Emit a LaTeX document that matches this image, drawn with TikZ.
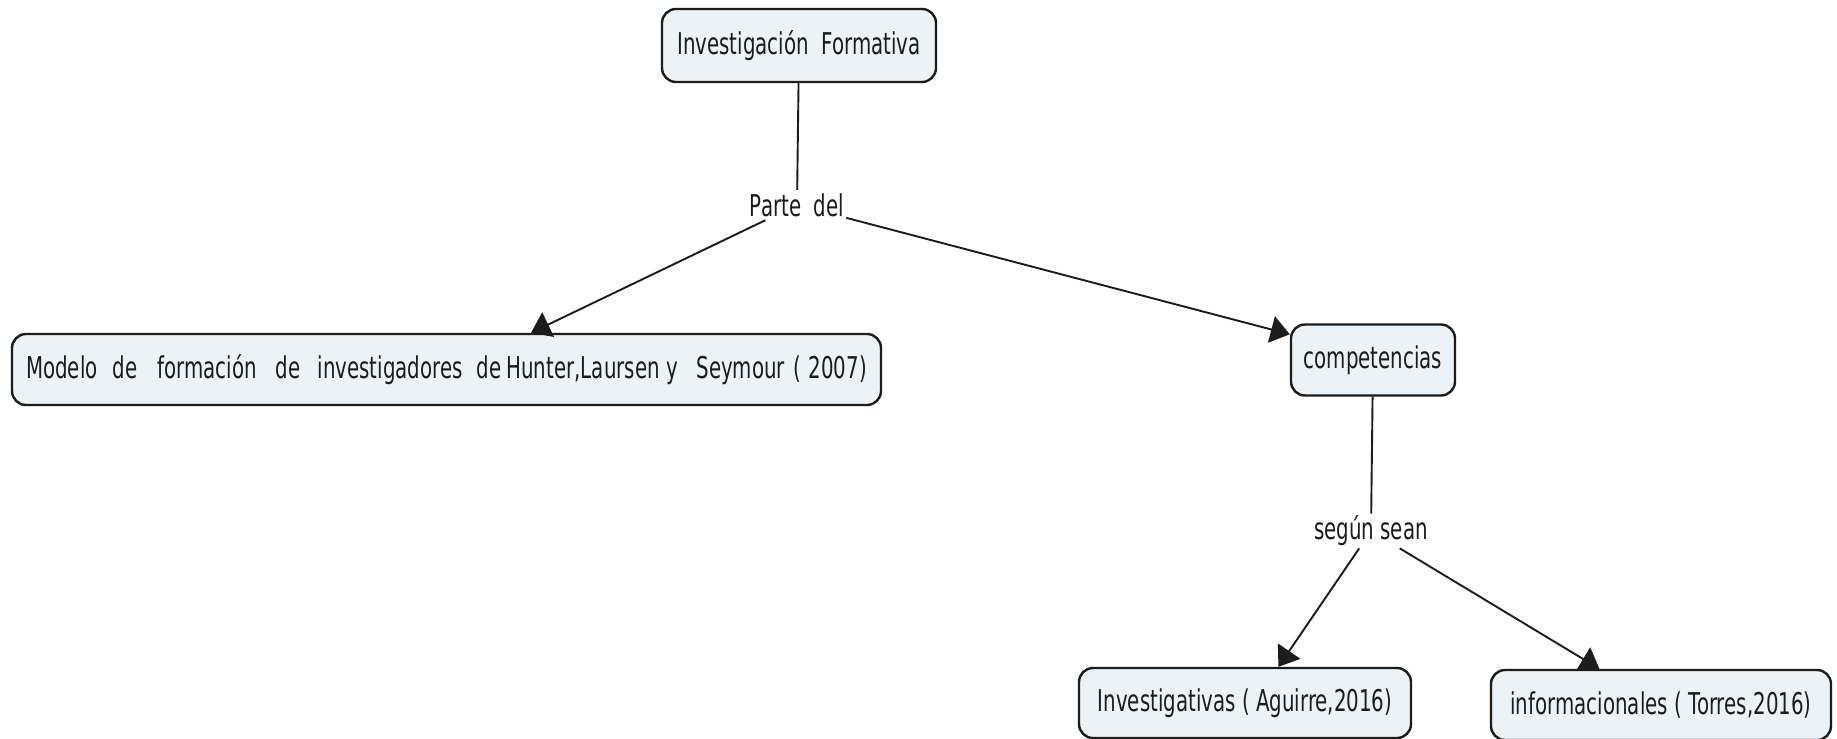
\documentclass[tikz,border=0pt]{standalone}
\usepackage{fontspec}
\setmainfont[FakeStretch=0.66]{DejaVu Sans}
\usetikzlibrary{arrows.meta,calc}
\definecolor{boxfill}{RGB}{236,242,246}
\definecolor{ink}{RGB}{28,28,28}
\begin{document}
\begin{tikzpicture}[x=1pt,y=-1pt,
  concept/.style={draw=ink, line width=2.4pt, fill=boxfill, rounded corners=14pt,
    inner sep=0pt, font=\fontsize{30}{36}\selectfont, text=ink},
  linkword/.style={inner sep=2pt, font=\fontsize{30}{36}\selectfont, text=ink,
    minimum height=30pt},
  conn/.style={draw=ink, line width=1.9pt},
  arr/.style={conn, -{Triangle[length=19pt,width=27pt]}}]
\fill[white] (0,0) rectangle (1837,739);
\useasboundingbox (0,0) rectangle (1837,739);
\node[concept, minimum width=274pt, minimum height=73pt] (top) at (799,45.5) {Investigación\ \ Formativa};
\node[linkword] (parte) at (797,205) {Parte\ \ del};
\node[concept, minimum width=869pt, minimum height=71pt] (model) at (446.5,369.5)
  {Modelo\hspace{15pt}de\hspace{20pt}formación\hspace{19pt}de\hspace{17pt}investigadores\hspace{14pt}de\hspace{5pt}Hunter,Laursen\hspace{7pt}y\hspace{18pt}Seymour\hspace{8pt}(\hspace{8pt}2007)};
\node[concept, minimum width=164pt, minimum height=71pt] (comp) at (1373,360) {competencias};
\node[linkword] (segun) at (1371,531) {según sean};
\node[concept, minimum width=332pt, minimum height=70pt] (inv) at (1245,703) {Investigativas ( Aguirre,2016)};
\node[concept, minimum width=340pt, minimum height=70pt] (info) at (1661,705) {informacionales ( Torres,2016)};
\draw[conn] (top) -- (parte);
\draw[arr] (parte) -- ($(model.north west)!0.597!(model.north east)$);
\draw[arr] (parte) -- ($(comp.north west)!0.15!(comp.south west)$);
\draw[conn] (comp) -- (segun);
\draw[arr] (segun) -- ($(inv.north west)!0.6!(inv.north east)$);
\draw[arr] (segun) -- ($(info.north west)!0.32!(info.north east)$);
\end{tikzpicture}
\end{document}
